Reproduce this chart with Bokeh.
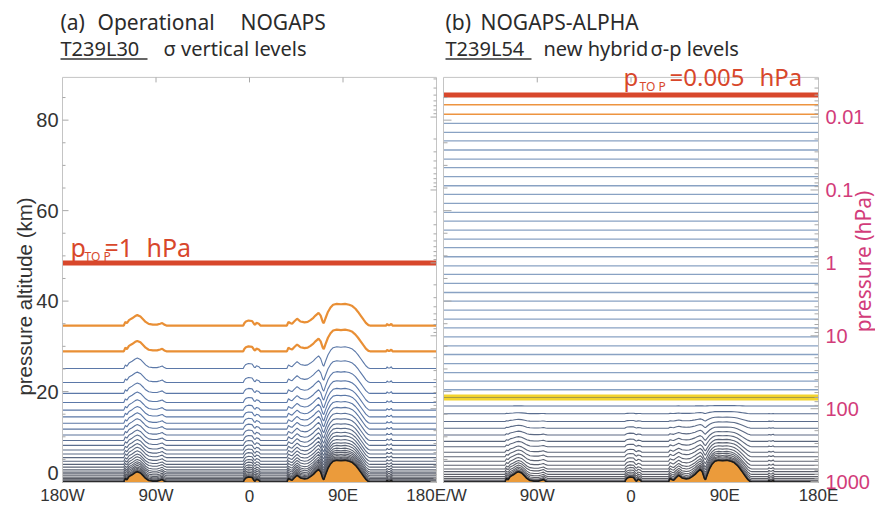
import math
import numpy as np
from bokeh.plotting import figure
from bokeh.models import Range1d, LogScale, Label
from bokeh.embed import file_html
from bokeh.resources import INLINE

# ---------------- data ----------------
# surface (pressure-altitude) profile along the cross-section, km
terrain_lon = [-180, -121, -119.5, -118, -116, -113, -110, -108, -105, -102, -100, -97, -93, -89, -86, -84, -82, -80,
               -6, -5, -3.5, -1, 2.5, 4.5, 5.5, 6.7, 9, 10.5,
               36, 37.5, 39.5, 41, 43, 45.8, 47.5, 49, 51, 53, 56, 58.7, 61.5, 63.5, 66.5, 68.5, 70.5, 71.5,
               73, 75.5, 78, 80.5, 84, 88, 92, 96, 99, 102, 104.5, 107, 109.8, 112, 114.5, 116,
               131.5, 132.5, 133.5, 135, 136.5, 137.5, 180]
terrain_km = [0, 0, 0.8, 0.5, 1.2, 1.6, 2.1, 2.3, 2.0, 1.3, 0.8, 0.35, 0.2, 0.2, 0.4, 0.55, 0.2, 0,
              0, 0.5, 0.9, 1.1, 1.0, 0.3, 0.2, 0.6, 0.4, 0,
              0, 0.8, 0.5, 0.4, 0.9, 1.5, 1.2, 0.9, 0.8, 0.7, 0.8, 1.2, 1.7, 2.2, 2.8, 2.2, 0.8, 0.5,
              1.5, 3.0, 4.0, 4.6, 4.8, 4.7, 4.8, 4.6, 4.3, 3.7, 3.0, 2.2, 1.3, 0.6, 0.1, 0,
              0, 0.35, 0.1, 0.1, 0.4, 0, 0]

# (a) T239L30 sigma levels: flat-terrain pressure altitude (km)
levels_a_km = [34.6, 28.9, 25.1, 22.0, 19.6, 17.6, 15.9, 14.4, 13.0, 11.7, 10.4, 9.2, 8.1, 7.1, 6.2,
               5.4, 4.6, 3.9, 3.3, 2.7, 2.2, 1.8, 1.4, 1.05, 0.75, 0.5, 0.3, 0.15, 0.05]
ptop_a_hpa = 1.0

# (b) T239L54 hybrid sigma-p levels (km) and terrain-following weight B
levels_b_km = [83.4, 81.3, 79.3, 77.3, 75.4, 73.4, 71.4, 69.5, 67.5, 65.5, 63.6, 61.6, 59.6, 57.7, 55.7,
               53.7, 51.8, 49.8, 47.8, 45.9, 43.9, 41.9, 40.0, 38.0, 36.0, 34.1, 32.1, 30.1, 28.2, 26.2,
               24.2, 22.3, 20.4, 18.7, 16.8, 15.1, 13.4, 11.9, 10.4, 9.0, 7.8, 6.6, 5.6, 4.6, 3.7, 2.9,
               2.3, 1.7, 1.2, 0.8, 0.45, 0.25, 0.1, 0.03]
hybrid_b = [0.0] * 34 + [0.02, 0.1, 0.2, 0.29, 0.37, 0.45, 0.52, 0.59, 0.65, 0.71, 0.76, 0.81, 0.85,
                         0.89, 0.92, 0.95, 0.97, 0.985, 0.995, 1.0]
ptop_b_hpa = 0.005
yellow_index = 33

km_ticks = [0, 20, 40, 60, 80]
km_labels = ["0", "20", "40", "60", "80"]
pressure_ticks = [0.01, 0.1, 1, 10, 100, 1000]
pressure_labels = ["0.01", "0.1", "1", "10", "100", "1000"]
lon_ticks = [-180, -90, 0, 90, 180]
lon_labels_a = ["180W", "90W", "0", "90E", "180E/W"]
lon_labels_b = ["", "90W", "0", "90E", "180E"]

# ---------------- layout constants ----------------
H, P0 = 7.0, 1013.25
W, HGT = 875, 506
A_LEFT, B_LEFT, PANEL_BOTTOM_PX = 62, 443, 482
PANEL_A_W, PANEL_B_W = 374, 375
Z_BOT, Z_TOP = -0.1, 106.45          # panel bottom (at 482 px) and canvas top
PANEL_TOP = 89.45
PX_PER_KM = PANEL_BOTTOM_PX / (Z_TOP - Z_BOT)
PX_PER_DEG_A = PANEL_A_W / 360
PX_PER_DEG_B = PANEL_B_W / 360


def X(px):
    return -180 + (px - A_LEFT) / PX_PER_DEG_A


def XB(px):
    return -180 + (px - B_LEFT) / PX_PER_DEG_B


def Y(py):
    return Z_TOP - py / PX_PER_KM


def mix(c1, c2, t):
    t = min(max(t, 0.0), 1.0)
    a = [int(c1[i:i + 2], 16) for i in (1, 3, 5)]
    b = [int(c2[i:i + 2], 16) for i in (1, 3, 5)]
    return "#" + "".join(f"{round(a[k] + (b[k] - a[k]) * t):02x}" for k in range(3))


p = figure(width=W, height=HGT, output_backend="svg", toolbar_location=None,
           x_range=Range1d(X(0), X(W)), y_range=Range1d(Y(HGT), Z_TOP),
           x_axis_type=None, y_axis_type=None,
           min_border_left=0, min_border_right=0, min_border_top=0, min_border_bottom=0)
p.outline_line_color = None
p.grid.visible = False
p.background_fill_color = "white"
p.border_fill_color = "white"
p.extra_x_ranges = {"b": Range1d(XB(0), XB(W))}
p.extra_y_ranges = {"p": Range1d(P0 * math.exp(-Y(HGT) / H), P0 * math.exp(-Z_TOP / H))}
p.extra_y_scales = {"p": LogScale()}

terr = np.array(terrain_km)
BORDER = "#c4c4c4"
TICK = "#a8a8a8"
ORANGE_FILL = "#eb9b3b"
RED = "#d8472b"
PINK = "#d23c7a"

# ---------- panel (a) ----------
p.varea(x=terrain_lon, y1=Z_BOT, y2=terrain_km, fill_color=ORANGE_FILL)
xs, ys, cols, wids = [], [], [], []
for i, z in enumerate(levels_a_km):
    xs.append(terrain_lon)
    ys.append(list(z + terr))
    if i < 2:
        cols.append("#e98f35"); wids.append(2.2)
    else:
        cols.append(mix("#5b78a8", "#5a5b62", (1 - z / 14) ** 1.2 if z < 14 else 0)); wids.append(1.1)
p.multi_line(xs=xs, ys=ys, line_color=cols, line_width=wids)
p.line(terrain_lon, terrain_km, line_color="#1b1b1b", line_width=1.6)
p.segment(x0=-180, x1=180, y0=ptop_a_hpa, y1=ptop_a_hpa, y_range_name="p",
          line_color=RED, line_width=5)

# ---------- panel (b) ----------
p.varea(x=terrain_lon, y1=Z_BOT, y2=terrain_km, fill_color=ORANGE_FILL, x_range_name="b")
xs, ys, cols, wids = [], [], [], []
for i, (z, bb) in enumerate(zip(levels_b_km, hybrid_b)):
    if i == yellow_index:
        continue
    xs.append(terrain_lon)
    ys.append(list(z + bb * terr))
    if i < 2:
        cols.append("#ed9440"); wids.append(1.7)
    elif i < yellow_index:
        cols.append("#89a2c3"); wids.append(1.3)
    else:
        cols.append(mix("#5a7096", "#5e5e64", 1 - z / 17)); wids.append(1.1)
p.multi_line(xs=xs, ys=ys, line_color=cols, line_width=wids, x_range_name="b")
zy = levels_b_km[yellow_index]
p.segment(x0=-180, x1=180, y0=zy, y1=zy, x_range_name="b", line_color="#f3d42e", line_width=6)
p.segment(x0=-180, x1=180, y0=zy, y1=zy, x_range_name="b", line_color="#a59848", line_width=1)
p.line(terrain_lon, terrain_km, line_color="#1b1b1b", line_width=1.6, x_range_name="b")
p.segment(x0=-180, x1=180, y0=ptop_b_hpa, y1=ptop_b_hpa, y_range_name="p", x_range_name="b",
          line_color=RED, line_width=5)

# ---------- panel frames and ticks ----------
p.quad(left=-180, right=180, bottom=Z_BOT, top=PANEL_TOP, fill_color=None,
       line_color=BORDER, line_width=1)
p.quad(left=-180, right=180, bottom=Z_BOT, top=PANEL_TOP, fill_color=None,
       line_color=BORDER, line_width=1, x_range_name="b")
top_tick = 5 / PX_PER_KM
inner = lon_ticks[1:4]
p.segment(x0=inner, x1=inner, y0=[PANEL_TOP] * 3, y1=[PANEL_TOP - top_tick] * 3,
          line_color=TICK, line_width=1)
p.segment(x0=inner, x1=inner, y0=[PANEL_TOP] * 3, y1=[PANEL_TOP - top_tick] * 3,
          line_color=TICK, line_width=1, x_range_name="b")

p_minor = [m * 10.0 ** k for k in range(-3, 3) for m in range(2, 10)]
p_lo = P0 * math.exp(-PANEL_TOP / H)
p_minor = [v for v in p_minor if p_lo <= v <= P0]
km_minor = [v for v in range(5, 90, 5) if v not in km_ticks]


def ticks_at(xedge, direction, length_px, yvals, xr=None, yr=None, ppd=PX_PER_DEG_A):
    kw = {}
    if xr:
        kw["x_range_name"] = xr
    if yr:
        kw["y_range_name"] = yr
    n = len(yvals)
    p.segment(x0=[xedge] * n, x1=[xedge + direction * length_px / ppd] * n,
              y0=yvals, y1=yvals, line_color=TICK, line_width=1, **kw)


# left panel: km on the left edge, pressure on the right edge
ticks_at(-180, 1, 6, km_ticks[1:])
ticks_at(-180, 1, 3, km_minor)
ticks_at(180, -1, 6, pressure_ticks, yr="p")
ticks_at(180, -1, 3, p_minor, yr="p")
# right panel: km on the left edge, pressure on the right edge
ticks_at(-180, 1, 8, km_ticks[1:], xr="b", ppd=PX_PER_DEG_B)
ticks_at(-180, 1, 4, km_minor, xr="b", ppd=PX_PER_DEG_B)
ticks_at(180, -1, 8, pressure_ticks, xr="b", yr="p", ppd=PX_PER_DEG_B)
ticks_at(180, -1, 4, p_minor, xr="b", yr="p", ppd=PX_PER_DEG_B)

# ---------- texts ----------
TICKFONT = "Liberation Sans"
TITLEFONT = "Noto Sans"
DARK = "#2b2b2b"


def lab(text, x, y, size, color=DARK, font=TITLEFONT, align="left", angle=0.0, **kw):
    p.add_layout(Label(x=x, y=y, text=text, text_font=font, text_font_size=f"{size}px",
                       text_color=color, text_align=align, text_baseline="middle",
                       angle=angle, **kw))


# longitude tick labels under both panels
for v, t in zip(lon_ticks, lon_labels_a):
    lab(t, v, Y(495), 17, "#333333", TICKFONT, "center")
for v, t in zip(lon_ticks, lon_labels_b):
    if t:
        lab(t, v, Y(495), 17, "#333333", TICKFONT, "center", x_range_name="b")

# km tick labels (left of panel a); the bottom "0" sits a little higher, as in the original
for v, t in zip(km_ticks, km_labels):
    yv = v if v != 0 else Y(472)
    lab(t, X(58), yv, 20, "#333333", TICKFONT, "right")
# pressure tick labels (right of panel b)
for v, t in zip(pressure_ticks, pressure_labels):
    lab(t, XB(825), v, 20, PINK, TICKFONT, "left", y_range_name="p", x_range_name="b")

lab("pressure altitude (km)", X(24), Y(296), 20.5, "#333333", TICKFONT, "center", math.pi / 2)
lab("pressure (hPa)", X(862), Y(261), 21, PINK, TITLEFONT, "center", math.pi / 2)

lab("(a)", X(60), Y(21), 21)
lab("Operational", X(97), Y(21), 21)
lab("NOGAPS", X(240), Y(21), 21)
lab("T239L30", X(60), Y(48), 20)
lab("σ vertical levels", X(163), Y(48), 20)
lab("(b)", X(445), Y(21), 21)
lab("NOGAPS-ALPHA", X(480), Y(21), 21)
lab("T239L54", X(445), Y(48), 20)
lab("new hybrid", X(543), Y(48), 20)
lab("σ-p levels", X(650), Y(48), 20)
p.segment(x0=[X(60), X(445)], x1=[X(147), X(531)], y0=[Y(58.5)] * 2, y1=[Y(58.5)] * 2,
          line_color="#333333", line_width=1.3)

lab("p", X(70), Y(246), 25, RED)
lab("TO P", X(84), Y(256), 12, RED)
lab("=1", X(104), Y(246), 25, RED)
lab("hPa", X(146), Y(246), 25, RED)
lab("p", X(623), Y(76), 24, RED)
lab("TO P", X(639), Y(86), 12, RED)
lab("=0.005", X(669), Y(76), 24, RED)
lab("hPa", X(759), Y(76), 24, RED)

open("out.html", "w").write(file_html(p, INLINE))
